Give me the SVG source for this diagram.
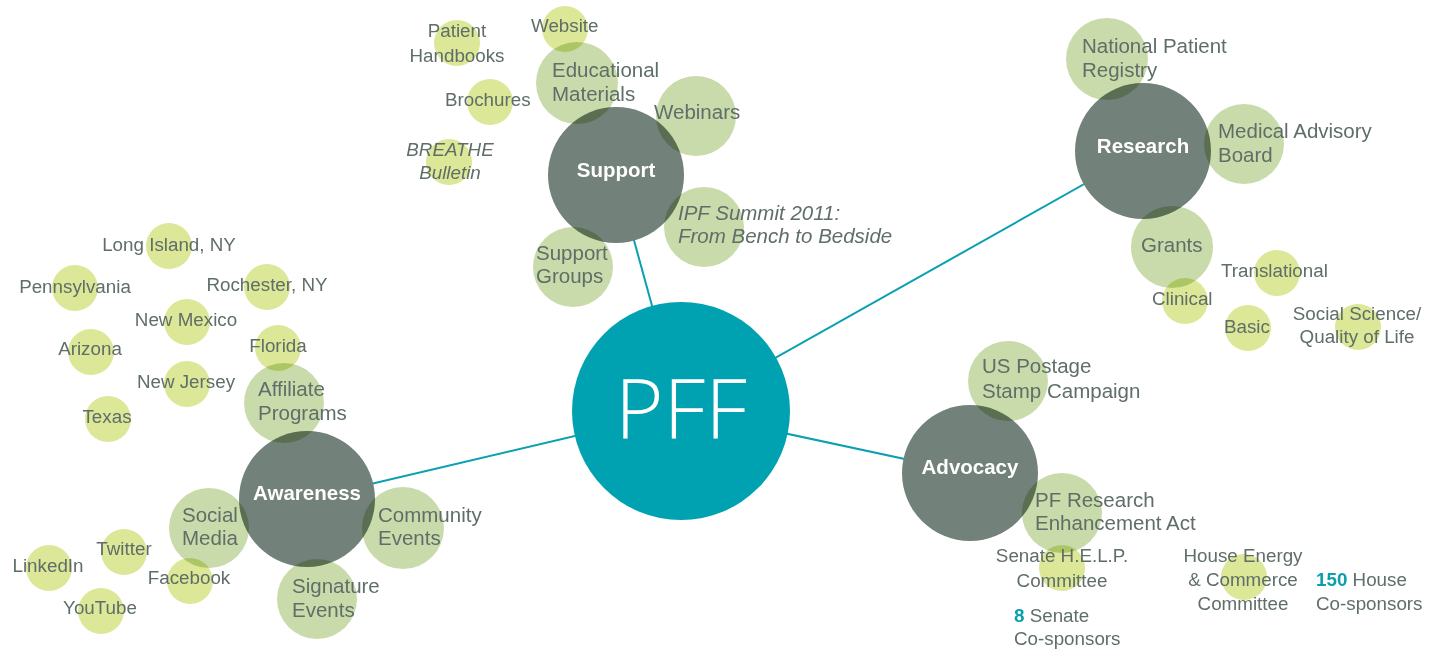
<svg xmlns="http://www.w3.org/2000/svg" width="1429" height="649" viewBox="0 0 1429 649">
  <style>
    .hub { fill: #728179; }
    .leaf { fill: #c9dbab; mix-blend-mode: multiply; }
    .sub { fill: #dce797; mix-blend-mode: multiply; }
    .link { stroke: #0aa0b0; stroke-width: 2; fill: none; }
    text { font-family: "Liberation Sans", Arial, sans-serif; fill: #5f6e68; }
    .lg { font-size: 20.5px; }
    .sm { font-size: 18.8px; }
    .it { font-style: italic; }
    .mid { text-anchor: middle; }
    .hubtxt { font-size: 20.5px; font-weight: bold; fill: #ffffff; text-anchor: middle; }
    .num { font-weight: bold; fill: #0a9fae; }
    .core { font-family: "Open Sans", "Liberation Sans", sans-serif; font-weight: 300; font-size: 83px; fill: #ffffff; text-anchor: middle; }
  </style>
  <rect width="1429" height="649" fill="#ffffff"/>

  <!-- connectors from the centre to each hub -->
  <g id="connectors">
    <line class="link" x1="681" y1="411" x2="616" y2="175"/>
    <line class="link" x1="681" y1="411" x2="1143" y2="151"/>
    <line class="link" x1="681" y1="411" x2="307" y2="499"/>
    <line class="link" x1="681" y1="411" x2="970" y2="473"/>
  </g>

  <!-- centre -->
  <g id="pff">
    <circle cx="681" cy="411" r="109" fill="#00a1b1"/>
    <text class="core" x="681" y="439">PFF</text>
  </g>

  <!-- hubs -->
  <g id="support">
    <circle class="hub" cx="616" cy="175" r="68"/>
    <text class="hubtxt" x="616" y="177">Support</text>
  </g>
  <g id="research">
    <circle class="hub" cx="1143" cy="151" r="68"/>
    <text class="hubtxt" x="1143" y="153">Research</text>
  </g>
  <g id="awareness">
    <circle class="hub" cx="307" cy="499" r="68"/>
    <text class="hubtxt" x="307" y="500">Awareness</text>
  </g>
  <g id="advocacy">
    <circle class="hub" cx="970" cy="473" r="68"/>
    <text class="hubtxt" x="970" y="474">Advocacy</text>
  </g>

  <!-- first-level items -->
  <g id="educational-materials">
    <circle class="leaf" cx="577" cy="83" r="41"/>
    <text class="lg" x="552" y="77">Educational</text>
    <text class="lg" x="552" y="101">Materials</text>
  </g>
  <g id="webinars">
    <circle class="leaf" cx="696" cy="116" r="40"/>
    <text class="lg" x="654" y="119">Webinars</text>
  </g>
  <g id="ipf-summit">
    <circle class="leaf" cx="704" cy="227" r="40"/>
    <text class="lg it" x="678" y="220">IPF Summit 2011:</text>
    <text class="lg it" x="678" y="243">From Bench to Bedside</text>
  </g>
  <g id="support-groups">
    <circle class="leaf" cx="573" cy="267" r="40"/>
    <text class="lg" x="536" y="260">Support</text>
    <text class="lg" x="536" y="283">Groups</text>
  </g>
  <g id="national-patient-registry">
    <circle class="leaf" cx="1107" cy="59" r="41"/>
    <text class="lg" x="1082" y="53">National Patient</text>
    <text class="lg" x="1082" y="77">Registry</text>
  </g>
  <g id="medical-advisory-board">
    <circle class="leaf" cx="1244" cy="144" r="40"/>
    <text class="lg" x="1218" y="138">Medical Advisory</text>
    <text class="lg" x="1218" y="162">Board</text>
  </g>
  <g id="grants">
    <circle class="leaf" cx="1172" cy="247" r="41"/>
    <text class="lg" x="1141" y="252">Grants</text>
  </g>
  <g id="affiliate-programs">
    <circle class="leaf" cx="284" cy="403" r="40"/>
    <text class="lg" x="258" y="396">Affiliate</text>
    <text class="lg" x="258" y="420">Programs</text>
  </g>
  <g id="social-media">
    <circle class="leaf" cx="209" cy="528" r="40"/>
    <text class="lg" x="182" y="522">Social</text>
    <text class="lg" x="182" y="545">Media</text>
  </g>
  <g id="community-events">
    <circle class="leaf" cx="403" cy="528" r="41"/>
    <text class="lg" x="378" y="522">Community</text>
    <text class="lg" x="378" y="545">Events</text>
  </g>
  <g id="signature-events">
    <circle class="leaf" cx="317" cy="599" r="40"/>
    <text class="lg" x="292" y="593">Signature</text>
    <text class="lg" x="292" y="617">Events</text>
  </g>
  <g id="us-postage">
    <circle class="leaf" cx="1008" cy="381" r="40"/>
    <text class="lg" x="982" y="373">US Postage</text>
    <text class="lg" x="982" y="398">Stamp Campaign</text>
  </g>
  <g id="pf-research-act">
    <circle class="leaf" cx="1062" cy="513" r="40"/>
    <text class="lg" x="1035" y="507">PF Research</text>
    <text class="lg" x="1035" y="530">Enhancement Act</text>
  </g>

  <!-- second-level items -->
  <g id="website">
    <circle class="sub" cx="565" cy="29" r="23"/>
    <text class="sm" x="531" y="32">Website</text>
  </g>
  <g id="patient-handbooks">
    <circle class="sub" cx="457" cy="43" r="23"/>
    <text class="sm mid" x="457" y="37">Patient</text>
    <text class="sm mid" x="457" y="62">Handbooks</text>
  </g>
  <g id="brochures">
    <circle class="sub" cx="490" cy="102" r="23"/>
    <text class="sm" x="445" y="106">Brochures</text>
  </g>
  <g id="breathe-bulletin">
    <circle class="sub" cx="449" cy="162" r="23"/>
    <text class="sm mid it" x="450" y="156">BREATHE</text>
    <text class="sm mid it" x="450" y="179">Bulletin</text>
  </g>
  <g id="translational">
    <circle class="sub" cx="1277" cy="273" r="23"/>
    <text class="sm" x="1221" y="277">Translational</text>
  </g>
  <g id="clinical">
    <circle class="sub" cx="1185" cy="301" r="23"/>
    <text class="sm" x="1152" y="305">Clinical</text>
  </g>
  <g id="basic">
    <circle class="sub" cx="1248" cy="328" r="23"/>
    <text class="sm" x="1224" y="333">Basic</text>
  </g>
  <g id="social-science">
    <circle class="sub" cx="1358" cy="327" r="23"/>
    <text class="sm mid" x="1357" y="320">Social Science/</text>
    <text class="sm mid" x="1357" y="343">Quality of Life</text>
  </g>
  <g id="long-island">
    <circle class="sub" cx="169" cy="246" r="23"/>
    <text class="sm mid" x="169" y="251">Long Island, NY</text>
  </g>
  <g id="pennsylvania">
    <circle class="sub" cx="75" cy="288" r="23"/>
    <text class="sm mid" x="75" y="293">Pennsylvania</text>
  </g>
  <g id="rochester">
    <circle class="sub" cx="267" cy="287" r="23"/>
    <text class="sm mid" x="267" y="291">Rochester, NY</text>
  </g>
  <g id="new-mexico">
    <circle class="sub" cx="187" cy="322" r="23"/>
    <text class="sm mid" x="186" y="326">New Mexico</text>
  </g>
  <g id="arizona">
    <circle class="sub" cx="91" cy="352" r="23"/>
    <text class="sm mid" x="90" y="355">Arizona</text>
  </g>
  <g id="florida">
    <circle class="sub" cx="278" cy="348" r="23"/>
    <text class="sm mid" x="278" y="352">Florida</text>
  </g>
  <g id="new-jersey">
    <circle class="sub" cx="187" cy="384" r="23"/>
    <text class="sm mid" x="186" y="388">New Jersey</text>
  </g>
  <g id="texas">
    <circle class="sub" cx="108" cy="419" r="23"/>
    <text class="sm mid" x="107" y="423">Texas</text>
  </g>
  <g id="twitter">
    <circle class="sub" cx="124" cy="552" r="23"/>
    <text class="sm mid" x="124" y="555">Twitter</text>
  </g>
  <g id="linkedin">
    <circle class="sub" cx="49" cy="568" r="23"/>
    <text class="sm mid" x="48" y="572">LinkedIn</text>
  </g>
  <g id="facebook">
    <circle class="sub" cx="190" cy="581" r="23"/>
    <text class="sm mid" x="189" y="584">Facebook</text>
  </g>
  <g id="youtube">
    <circle class="sub" cx="101" cy="611" r="23"/>
    <text class="sm mid" x="100" y="614">YouTube</text>
  </g>
  <g id="senate-help">
    <circle class="sub" cx="1062" cy="568" r="23"/>
    <text class="sm mid" x="1062" y="562">Senate H.E.L.P.</text>
    <text class="sm mid" x="1062" y="587">Committee</text>
  </g>
  <g id="house-energy">
    <circle class="sub" cx="1244" cy="577" r="23"/>
    <text class="sm mid" x="1243" y="562">House Energy</text>
    <text class="sm mid" x="1243" y="586">&amp; Commerce</text>
    <text class="sm mid" x="1243" y="610">Committee</text>
  </g>

  <!-- co-sponsor counts -->
  <g id="senate-cosponsors">
    <text class="sm" x="1014" y="622"><tspan class="num">8</tspan> Senate</text>
    <text class="sm" x="1014" y="645">Co-sponsors</text>
  </g>
  <g id="house-cosponsors">
    <text class="sm" x="1316" y="586"><tspan class="num">150</tspan> House</text>
    <text class="sm" x="1316" y="610">Co-sponsors</text>
  </g>
</svg>
